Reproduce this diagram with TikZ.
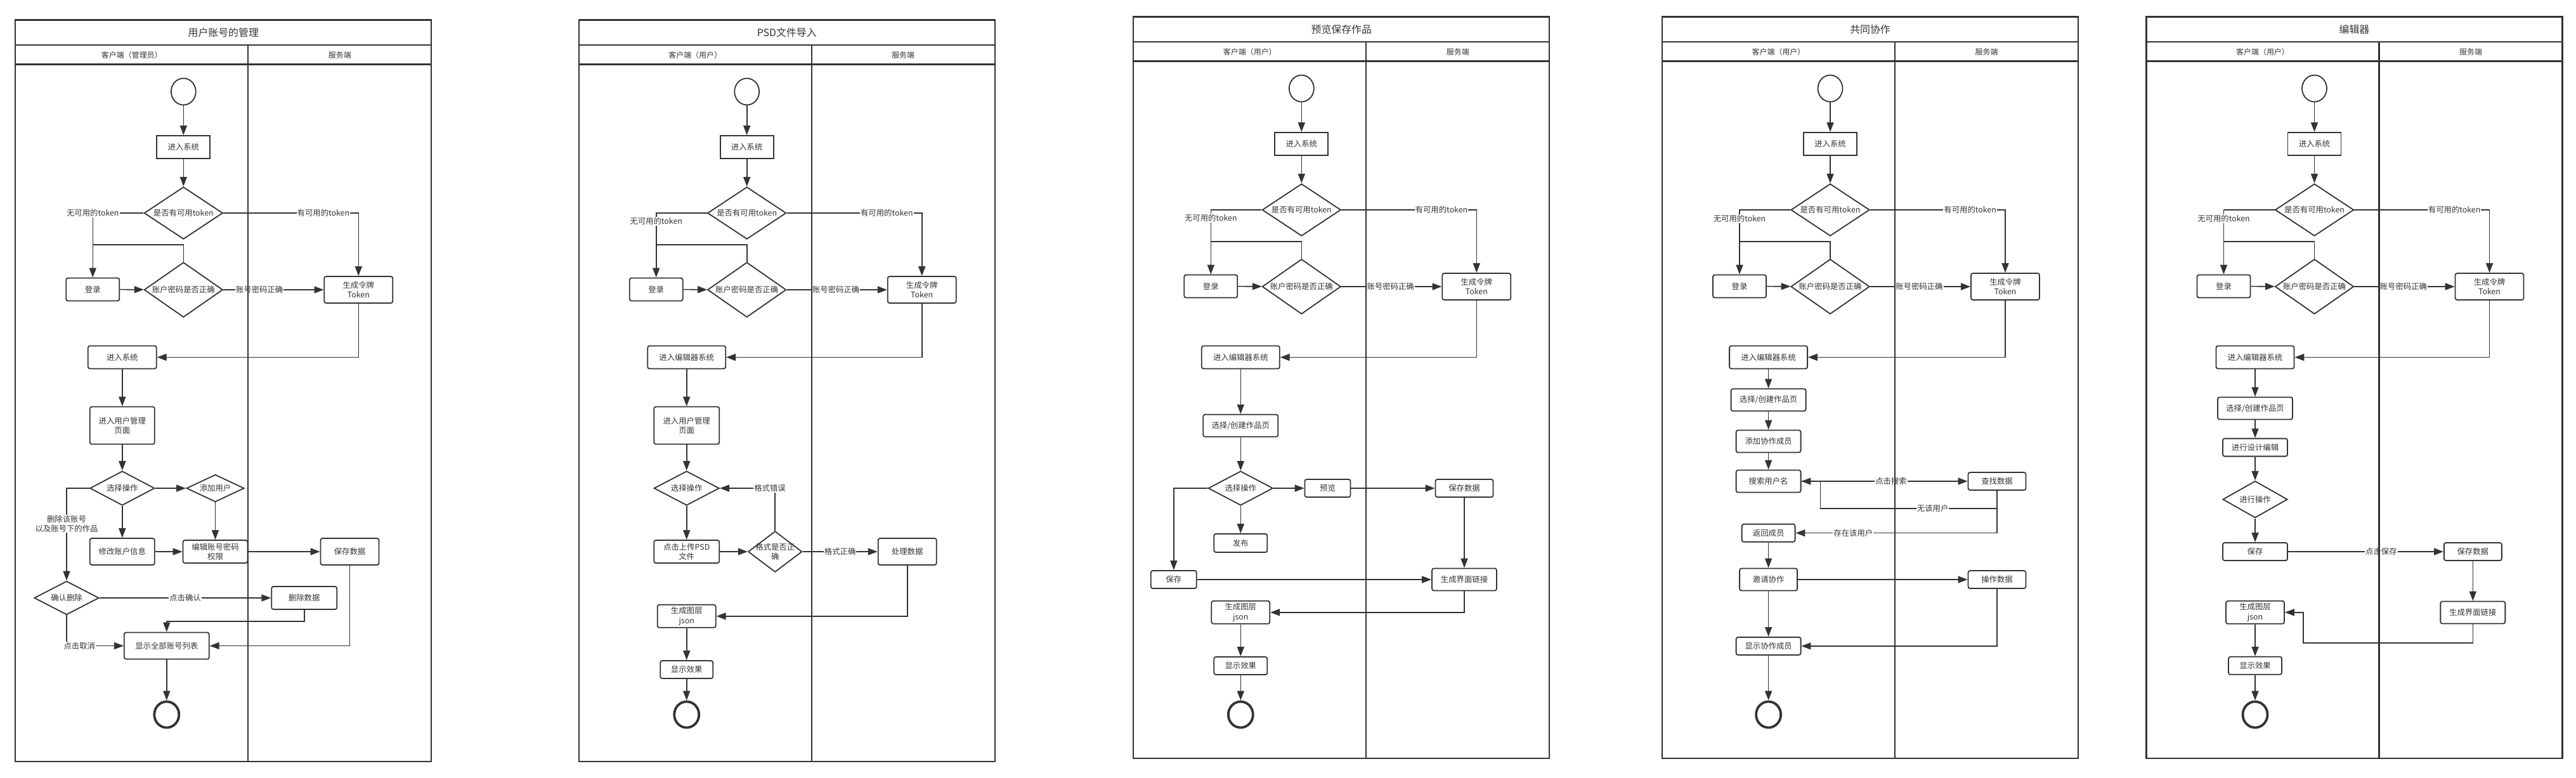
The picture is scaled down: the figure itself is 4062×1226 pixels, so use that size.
\documentclass[tikz,border=0pt]{standalone}
\usepackage{fontspec}
\setmainfont{Noto Sans CJK SC}
\usetikzlibrary{shapes.geometric,arrows.meta}

\definecolor{ln}{HTML}{333333}
\definecolor{txt}{HTML}{333333}

\newdimen\px \px=0.025cm
\newcommand{\nodefont}{\fontsize{8.8}{10.8}\selectfont}

\tikzset{
  lane/.style={draw=ln, line width=2.2\px},
  arr/.style={draw=ln, line width=1.6\px, -{Triangle[length=10.6pt,width=7.8pt]}},
  conn/.style={draw=ln, line width=1.6\px},
  sz/.style 2 args={minimum width=#1\px, minimum height=#2\px},
  box/.style={draw=ln, line width=1.8\px, rounded corners=3\px, fill=white, align=center, inner sep=0pt, font=\nodefont, text=txt},
  sbox/.style={box, rounded corners=0pt},
  dec/.style={draw=ln, line width=1.8\px, diamond, fill=white, align=center, inner sep=-6\px, font=\nodefont, text=txt},
  lbl/.style={fill=white, inner sep=1\px, align=center, font=\nodefont, text=txt},
  ttl/.style={font=\fontsize{11.3}{13}\selectfont, text=txt},
  hdr/.style={font=\fontsize{8.5}{10}\selectfont, text=txt},
  startn/.style={draw=ln, ellipse, line width=1.8\px, sz={39}{42}, inner sep=0pt},
  endn/.style={draw=ln, ellipse, line width=3.8\px, sz={39}{41}, inner sep=0pt}
}

% lanes, start and login part shared by every panel
\newcommand{\loginlane}[5]{%
  \draw[lane] (0,31.5) rectangle (656,1201);
  \draw[lane] (0,71) -- (656,71) (0,101.5) -- (656,101.5);
  \node[ttl] (#1title) at (328,51) {#2};
  \node[hdr] (#1client) at (183.5,86.5) {#3};
  \node[hdr] (#1server) at (511.5,86.5) {服务端};
  \node[startn] (#1start) at (265,144.5) {};
  \node[sbox, sz={84}{36}] (#1sys) at (265,232) {进入系统};
  \node[dec, sz={124}{78}] (#1tok) at (265,336) {是否有可用token};
  \node[box, sz={84}{36}] (#1login) at (122,456.5) {登录};
  \node[dec, sz={124}{78}] (#1pwd) at (265,457) {账户密码是否正确};
  \node[box, sz={108}{42}] (#1gen) at (541,457) {生成令牌\\Token};
  \coordinate (#1loop) at (122,386);
  \draw[arr] (#1start) -- (#1sys);
  \draw[arr] (#1sys) -- (#1tok);
  \draw[arr] (#1tok.west) -| (#1login.north);
  \node[lbl] (#1nolbl) at (122,#4) {无可用的token};
  \draw[arr] (#1tok.east) -| (#1gen.north) node[lbl, pos=0.37] (#1oklbl) {有可用的token};
  \draw[conn] (#1pwd.north) |- (#1loop);
  \draw[arr] (#1login) -- (#1pwd);
  \draw[arr] (#1pwd) -- (#1gen) node[lbl, pos=#5] (#1pwdlbl) {账号密码正确};
}

\begin{document}
\begin{tikzpicture}[x=0.025cm, y=-0.025cm]
\path[fill=white, use as bounding box] (0,0) rectangle (4062,1226);

% 用户账号的管理
\begin{scope}[shift={(24.3,0)}]
  \loginlane{um}{用户账号的管理}{客户端（管理员）}{336}{0.36}
  \node[box, sz={108}{36}] (umenter) at (168.5,563.4) {进入系统};
  \node[box, sz={102}{59}] (ummgr) at (168.5,671) {进入用户管理\\页面};
  \node[dec, sz={102}{54}] (umop) at (168.5,770) {选择操作};
  \node[dec, sz={91}{43}] (umadd) at (315.2,770) {添加用户};
  \node[box, sz={102}{42}] (ummod) at (168.5,870) {修改账户信息};
  \node[box, sz={102}{36}] (umedit) at (315.2,870) {编辑账号密码\\权限};
  \node[box, sz={92}{42}] (umsave) at (527.2,870) {保存数据};
  \node[dec, sz={102}{53}] (umconf) at (80.7,943) {确认删除};
  \node[box, sz={103}{36}] (umdel) at (455.4,943) {删除数据};
  \node[box, sz={134}{42}] (umlist) at (238.5,1018.5) {显示全部账号列表};
  \node[endn] (umend) at (238.5,1127) {};
  \draw[arr] (umgen.south) |- (umenter.east);
  \draw[arr] (umenter) -- (ummgr);
  \draw[arr] (ummgr) -- (umop);
  \draw[arr] (umop) -- (umadd);
  \draw[arr] (umop) -- (ummod);
  \draw[arr] (umadd) -- (umedit);
  \draw[arr] (ummod) -- (umedit);
  \draw[arr] (umedit) -- (umsave);
  \draw[arr] (umop.west) -| (umconf.north);
  \node[lbl] (umdellbl) at (80.7,826) {删除该账号\\以及账号下的作品};
  \draw[arr] (umconf) -- (umdel) node[lbl, pos=0.5] (umoklbl) {点击确认};
  \draw[arr] (umdel.south) |- (238.5,980) -- (umlist.north);
  \draw[arr] (umconf.south) |- (umlist.west);
  \node[lbl] (umcnllbl) at (101,1018.5) {点击取消};
  \draw[arr] (umsave.south) |- (umlist.east);
  \draw[arr] (umlist) -- (umend);
  \draw[lane] (367,71) -- (367,1201);
\end{scope}

% PSD文件导入
\begin{scope}[shift={(912.7,0)}]
  \loginlane{psd}{PSD文件导入}{客户端（用户）}{349}{0.49}
  \node[box, sz={123}{36}] (psdenter) at (170,563.5) {进入编辑器系统};
  \node[box, sz={103}{59}] (psdmgr) at (170,671) {进入用户管理\\页面};
  \node[dec, sz={103}{54}] (psdop) at (170,770) {选择操作};
  \node[box, sz={103}{36}] (psdup) at (170,870) {点击上传PSD\\文件};
  \node[dec, sz={85}{54}] (psdchk) at (309.5,870) {格式是否正\\确};
  \node[box, sz={92}{42}] (psdproc) at (518,870) {处理数据};
  \node[box, sz={92}{36}] (psdlayer) at (170,971.8) {生成图层\\json};
  \node[box, sz={83}{28}] (psdshow) at (170,1056) {显示效果};
  \node[endn] (psdend) at (170,1127) {};
  \draw[arr] (psdgen.south) |- (psdenter.east);
  \draw[arr] (psdenter) -- (psdmgr);
  \draw[arr] (psdmgr) -- (psdop);
  \draw[arr] (psdop) -- (psdup);
  \draw[arr] (psdup) -- (psdchk);
  \draw[arr] (psdchk.north) |- (psdop.east);
  \node[lbl] (psderrlbl) at (301.3,770) {格式错误};
  \draw[arr] (psdchk) -- (psdproc) node[lbl, pos=0.5] (psdoklbl) {格式正确};
  \draw[arr] (psdproc.south) |- (psdlayer.east);
  \draw[arr] (psdlayer) -- (psdshow);
  \draw[arr] (psdshow) -- (psdend);
  \draw[lane] (367,71) -- (367,1201);
\end{scope}

% 预览保存作品
\begin{scope}[shift={(1787.3,-5)}]
  \loginlane{pv}{预览保存作品}{客户端（用户）}{349}{0.49}
  \node[box, sz={123}{36}] (pventer) at (169,568.5) {进入编辑器系统};
  \node[box, sz={118}{35}] (pvpick) at (169,676.3) {选择/创建作品页};
  \node[dec, sz={102}{54}] (pvop) at (169,775) {选择操作};
  \node[box, sz={72}{28}] (pvview) at (306.2,775) {预览};
  \node[box, sz={91}{28}] (pvdata) at (521.7,775) {保存数据};
  \node[box, sz={84}{29}] (pvpub) at (169,861.5) {发布};
  \node[box, sz={72}{28}] (pvsave) at (63.5,919) {保存};
  \node[box, sz={102}{35}] (pvlink) at (521.7,919) {生成界面链接};
  \node[box, sz={92}{36}] (pvlayer) at (169,970.8) {生成图层\\json};
  \node[box, sz={84}{28}] (pvshow) at (169,1055) {显示效果};
  \node[endn] (pvend) at (169,1132) {};
  \draw[arr] (pvgen.south) |- (pventer.east);
  \draw[arr] (pventer) -- (pvpick);
  \draw[arr] (pvpick) -- (pvop);
  \draw[arr] (pvop) -- (pvview);
  \draw[arr] (pvview) -- (pvdata);
  \draw[arr] (pvdata) -- (pvlink);
  \draw[arr] (pvop) -- (pvpub);
  \draw[arr] (pvop.west) -| (pvsave.north);
  \draw[arr] (pvsave) -- (pvlink);
  \draw[arr] (pvlink.south) |- (pvlayer.east);
  \draw[arr] (pvlayer) -- (pvshow);
  \draw[arr] (pvshow) -- (pvend);
  \draw[lane] (367,71) -- (367,1201);
\end{scope}

% 共同协作
\begin{scope}[shift={(2621,-5)}]
  \loginlane{co}{共同协作}{客户端（用户）}{350}{0.49}
  \node[box, sz={123}{36}] (coenter) at (167.6,568.4) {进入编辑器系统};
  \node[box, sz={118}{35}] (copick) at (167.6,635.8) {选择/创建作品页};
  \node[box, sz={102}{35}] (coadd) at (167.6,701) {添加协作成员};
  \node[box, sz={102}{35}] (cosearch) at (167.6,764) {搜索用户名};
  \node[box, sz={91}{28}] (cofind) at (528,764) {查找数据};
  \node[box, sz={84}{28}] (coback) at (167.6,845.6) {返回成员};
  \node[box, sz={91}{35}] (coinvite) at (167.6,919) {邀请协作};
  \node[box, sz={91}{28}] (codata) at (528,919) {操作数据};
  \node[box, sz={102}{28}] (coshow) at (167.6,1023.9) {显示协作成员};
  \node[endn] (coend) at (167.6,1132) {};
  \draw[arr] (cogen.south) |- (coenter.east);
  \draw[arr] (coenter) -- (copick);
  \draw[arr] (copick) -- (coadd);
  \draw[arr] (coadd) -- (cosearch);
  \draw[arr] (cosearch) -- (cofind) node[lbl, pos=0.54] (cosearchlbl) {点击搜索};
  \draw[arr] (cofind.south) |- (249.4,807.2) |- (cosearch.east);
  \node[lbl] (conolbl) at (426.6,807.2) {无该用户};
  \draw[arr] (cofind.south) |- (coback.east);
  \node[lbl] (coyeslbl) at (301.3,845.6) {存在该用户};
  \draw[arr] (coback) -- (coinvite);
  \draw[arr] (coinvite) -- (codata);
  \draw[arr] (coinvite) -- (coshow);
  \draw[arr] (codata.south) |- (coshow.east);
  \draw[arr] (coshow) -- (coend);
  \draw[lane] (367,71) -- (367,1201);
\end{scope}

% 编辑器
\begin{scope}[shift={(3384.5,-5)}]
  \loginlane{ed}{编辑器}{客户端（用户）}{350}{0.49}
  \node[box, sz={123}{36}] (edenter) at (171.5,568.5) {进入编辑器系统};
  \node[box, sz={118}{35}] (edpick) at (171.5,648.9) {选择/创建作品页};
  \node[box, sz={102}{28}] (eddesign) at (171.5,710.6) {进行设计编辑};
  \node[dec, sz={102}{58}] (edop) at (171.5,792.6) {进行操作};
  \node[box, sz={102}{28}] (edsave) at (171.5,875) {保存};
  \node[box, sz={91}{28}] (eddata) at (514.8,875) {保存数据};
  \node[box, sz={102}{35}] (edlink) at (514.8,971) {生成界面链接};
  \node[box, sz={92}{36}] (edlayer) at (171.5,970.8) {生成图层\\json};
  \node[box, sz={84}{28}] (edshow) at (171.5,1054.8) {显示效果};
  \node[endn] (edend) at (171.5,1132) {};
  \draw[arr] (edgen.south) |- (edenter.east);
  \draw[arr] (edenter) -- (edpick);
  \draw[arr] (edpick) -- (eddesign);
  \draw[arr] (eddesign) -- (edop);
  \draw[arr] (edop) -- (edsave);
  \draw[arr] (edsave) -- (eddata) node[lbl, pos=0.6] (edsavelbl) {点击保存};
  \draw[arr] (eddata) -- (edlink);
  \draw[arr] (edlink.south) |- (247.2,1019) |- (edlayer.east);
  \draw[arr] (edlayer) -- (edshow);
  \draw[arr] (edshow) -- (edend);
  \draw[lane] (367,71) -- (367,1201);
\end{scope}
\end{tikzpicture}
\end{document}
